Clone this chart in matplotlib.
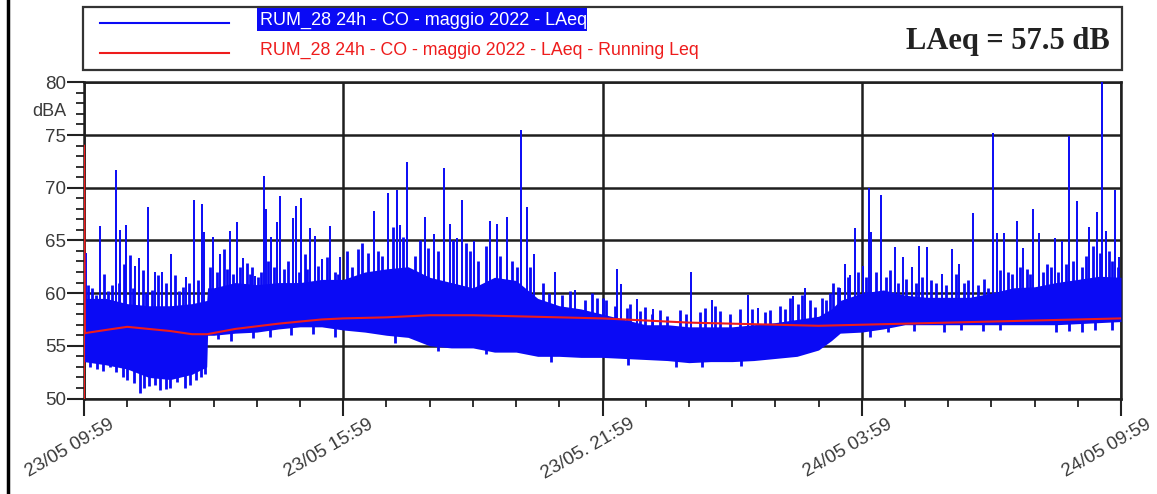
import numpy as np
import matplotlib
matplotlib.use("Agg")
import matplotlib.pyplot as plt
from matplotlib.patches import Rectangle
from matplotlib.lines import Line2D
from matplotlib.ticker import MultipleLocator
from matplotlib.transforms import offset_copy

################# data (hours after 23/05 09:59, dBA) #################
# dense part of the LAeq trace: lower / upper edge
band_h = [0.0, 0.5, 1.0, 1.5, 2.0, 2.5, 2.84, 2.86, 3.0, 3.5, 4.0, 4.5, 5.0, 5.5, 6.0,
          6.5, 7.0, 7.5, 8.0, 8.5, 9.0, 9.5, 10.0, 10.5, 11.0, 11.5, 12.0, 12.5, 13.0,
          13.5, 14.0, 14.5, 15.0, 15.5, 16.0, 16.5, 17.0, 17.3, 17.5, 18.0, 18.5, 19.0,
          19.5, 20.0, 20.5, 21.0, 21.5, 22.0, 22.5, 23.0, 23.5, 24.0]
band_lo = [53.5, 53.2, 52.8, 52.0, 51.8, 52.3, 53.0, 56.0, 56.0, 56.2, 56.3, 56.6, 56.8, 56.8, 56.5,
           56.3, 56.0, 55.8, 55.0, 54.8, 54.8, 54.4, 54.4, 54.0, 54.0, 53.9, 53.9, 53.8, 53.7,
           53.6, 53.4, 53.5, 53.5, 53.6, 53.8, 54.0, 54.6, 55.5, 56.2, 56.3, 56.6, 57.0,
           57.0, 57.0, 57.0, 57.0, 57.0, 57.0, 57.0, 57.1, 57.2, 57.3]
band_hi = [59.5, 59.5, 59.0, 58.8, 58.8, 59.0, 59.3, 60.5, 60.5, 61.0, 60.8, 61.0, 61.0, 61.3, 61.3,
           62.0, 62.3, 62.5, 61.5, 61.0, 60.5, 61.5, 61.2, 59.5, 58.8, 58.5, 58.0, 57.5, 57.0,
           57.0, 56.8, 56.8, 56.8, 57.0, 57.2, 57.5, 57.8, 58.5, 59.3, 60.0, 60.3, 59.8,
           59.6, 59.6, 59.6, 60.0, 60.5, 60.6, 61.0, 61.3, 61.6, 61.5]

# tall single peaks
spike_h = [0.05, 0.37, 0.74, 0.83, 0.97, 1.18, 1.27, 1.48, 1.64, 1.81, 2.01, 2.36, 2.55, 2.73,
           2.78, 2.99, 3.15, 3.38, 3.54, 3.68, 3.96, 4.17, 4.21, 4.33, 4.47, 4.54, 4.84, 4.91,
           5.02, 5.23, 5.35, 5.51, 5.69, 5.93, 6.71, 7.04, 7.25, 7.31, 7.48, 7.89, 8.10, 8.33,
           8.47, 8.63, 8.75, 9.03, 9.40, 9.56, 9.79, 10.12, 10.25, 10.42, 10.90, 11.37, 12.34,
           12.43, 12.80, 13.17, 14.05, 14.54, 15.37, 15.60, 16.41, 16.69, 17.50, 17.62, 17.73,
           17.85, 18.03, 18.17, 18.22, 18.45, 18.77, 18.96, 19.17, 19.33, 19.51, 19.86, 20.09,
           20.25, 20.58, 21.04, 21.13, 21.30, 21.60, 21.74, 21.97, 22.11, 22.48, 22.64, 22.80,
           22.99, 23.26, 23.45, 23.56, 23.66, 23.87, 23.96]
spike_db = [63.8, 66.4, 71.7, 66.0, 66.5, 62.6, 63.3, 68.2, 62.0, 62.0, 63.7, 61.5, 68.8, 68.5,
            65.8, 65.3, 63.7, 65.9, 66.7, 63.3, 61.6, 71.1, 68.0, 65.3, 66.7, 69.2, 67.1, 68.3,
            69.0, 66.2, 65.4, 63.2, 66.4, 63.4, 67.8, 69.5, 69.8, 66.5, 72.4, 67.2, 65.6, 71.9,
            66.6, 65.2, 68.8, 64.9, 66.8, 66.6, 67.2, 75.5, 68.2, 63.7, 62.0, 60.3, 62.3,
            60.9, 59.4, 58.5, 62.0, 59.3, 59.8, 58.6, 59.7, 60.5, 60.5, 62.8, 61.7,
            66.2, 62.6, 70.0, 65.8, 69.3, 64.4, 63.4, 62.5, 64.5, 64.4, 61.8, 64.2,
            62.8, 67.6, 75.2, 65.7, 65.7, 66.8, 64.3, 68.0, 65.7, 65.2, 64.9, 74.9,
            68.7, 66.3, 67.7, 80.0, 65.9, 69.8, 63.4]

# shorter peaks just above the dense part
mid_h = [0.09, 0.19, 0.28, 0.46, 0.56, 0.65, 0.81, 0.93, 1.06, 1.13, 1.37, 1.44, 1.57, 1.71,
         1.90, 2.11, 2.20, 2.29, 2.43, 2.64,
         2.92, 3.08, 3.24, 3.31, 3.45, 3.61, 3.77, 3.84, 3.89, 4.03, 4.10, 4.26, 4.40, 4.63,
         4.72, 4.98, 5.12, 5.16, 5.42, 5.63, 5.81, 5.88,
         6.09, 6.20, 6.34, 6.44, 6.57, 6.81, 6.90, 7.15, 7.38, 7.66, 7.78, 7.96, 8.19, 8.54,
         8.84, 8.94, 9.12, 9.31, 9.63, 9.91, 10.02, 10.32, 10.62, 10.76, 11.06, 11.25, 11.60,
         11.76, 11.88,
         12.01, 12.08, 12.29, 12.57, 12.64, 12.87, 12.99, 13.15, 13.33, 13.50, 13.80, 13.94,
         14.26, 14.38, 14.61, 14.72, 14.95, 15.19, 15.46, 15.76, 15.88, 16.11, 16.23, 16.34,
         16.53, 16.62, 16.81, 16.92, 17.08, 17.18, 17.27, 17.34, 17.45, 17.69, 17.92,
         18.10, 18.33, 18.56, 18.66, 18.84, 19.03, 19.26, 19.40, 19.61, 19.72, 19.95, 20.19,
         20.37, 20.46, 20.69, 20.83, 20.93, 21.20, 21.39, 21.48, 21.67, 21.83, 21.90, 22.20,
         22.29, 22.38, 22.55, 22.73, 22.89, 23.10, 23.19, 23.36, 23.52, 23.73, 23.80, 23.94]
mid_db = [60.8, 60.5, 59.8, 61.8, 60.2, 60.8, 61.0, 62.8, 63.6, 60.5, 62.2, 60.0, 60.3, 61.7,
          61.0, 61.7, 60.2, 60.6, 61.0, 61.2,
          62.5, 62.0, 64.2, 62.3, 61.8, 62.5, 62.9, 61.8, 62.5, 61.5, 62.0, 63.0, 62.5, 62.3,
          63.0, 62.0, 63.7, 62.3, 62.6, 63.4, 62.0, 61.8,
          64.0, 62.5, 64.2, 64.8, 63.8, 64.0, 63.5, 66.3, 65.3, 63.5, 65.0, 64.3, 64.0, 65.0,
          64.8, 64.0, 63.0, 64.5, 63.5, 63.0, 62.5, 62.5, 61.0, 60.0, 59.8, 60.2, 59.3,
          60.0, 59.5,
          59.5, 59.3, 58.8, 58.6, 59.0, 58.3, 58.7, 58.0, 58.4, 57.8, 58.4, 58.0,
          58.2, 58.6, 58.8, 58.3, 58.0, 58.5, 58.5, 58.2, 58.4, 58.8, 58.5, 59.5,
          59.0, 59.8, 59.3, 58.7, 59.5, 59.3, 60.0, 61.0, 60.6, 61.5, 62.0,
          61.5, 62.0, 61.5, 62.2, 61.0, 61.3, 61.0, 61.5, 61.2, 61.0, 60.8, 61.8,
          61.0, 61.2, 60.8, 61.3, 60.5, 62.2, 62.0, 61.8, 62.5, 62.3, 61.8, 62.0,
          62.8, 62.5, 62.0, 62.8, 63.0, 62.5, 63.5, 64.5, 63.8, 64.0, 63.0, 62.5]

# single dips below the dense part
dip_h = [0.15, 0.3, 0.45, 0.6, 0.75, 0.9, 1.0, 1.15, 1.3, 1.4, 1.5, 1.65, 1.76, 1.9, 2.0, 2.15,
         2.34, 2.45, 2.6, 2.7, 2.8, 3.1, 3.4, 3.9, 4.3, 4.8, 5.3, 5.8, 7.2, 8.2, 9.3, 10.8,
         12.6, 13.7, 14.3, 15.2, 18.2, 18.6, 19.2, 19.9, 20.3, 20.8, 21.2, 22.5, 22.8, 23.1,
         23.4, 23.8]
dip_db = [53.0, 52.8, 52.6, 53.0, 52.5, 52.0, 51.8, 51.5, 50.5, 51.0, 51.2, 51.3, 50.8, 50.9,
          51.0, 51.6, 51.0, 51.3, 51.8, 52.0, 52.3, 55.6, 55.5, 55.7, 55.8, 56.0, 56.1, 55.8,
          55.3, 54.5, 54.2, 53.5, 53.2, 53.0, 53.0, 53.1, 55.8, 56.3, 56.4, 56.3, 56.5, 56.4,
          56.5, 56.3, 56.4, 56.3, 56.5, 56.5]

# running Leq
run_h = [0.0, 0.0, 0.02, 0.5, 1.0, 1.5, 2.0, 2.5, 2.85, 3.5, 4.5, 5.5, 6.0, 7.0, 8.0, 9.0, 10.0,
         11.0, 12.0, 13.0, 14.0, 15.0, 16.0, 17.0, 18.0, 19.0, 20.0, 21.0, 22.0, 23.0, 24.0]
run_db = [45.0, 74.0, 56.2, 56.5, 56.8, 56.6, 56.4, 56.1, 56.1, 56.6, 57.1, 57.5, 57.6, 57.7, 57.9,
          57.9, 57.8, 57.7, 57.6, 57.4, 57.2, 57.1, 57.0, 56.9, 57.0, 57.1, 57.2, 57.3, 57.4,
          57.5, 57.6]

tick_h = [0, 6, 12, 18, 24]
tick_labels = ["23/05 09:59", "23/05 15:59", "23/05. 21:59", "24/05 03:59", "24/05 09:59"]
y_ticks = [50, 55, 60, 65, 70, 75, 80]
series_name = "RUM_28 24h - CO - maggio 2022 - LAeq"
running_name = "RUM_28 24h - CO - maggio 2022 - LAeq - Running Leq"
laeq_total = 57.5
################# data #################

BLUE = "#0a0af5"
RED = "#ee1c1c"
INK = "#3a3a3a"
W, H = 1157, 494
plt.rcParams['font.family'] = ['Liberation Sans', 'DejaVu Sans']

fig = plt.figure(figsize=(W / 100, H / 100), dpi=100)
ax = fig.add_axes([84 / W, (H - 398.5) / H, (1121 - 84) / W, (398.5 - 82.3) / H])

# blue trace
ax.fill_between(band_h, band_lo, band_hi, color=BLUE, lw=0, zorder=3)
ax.vlines(spike_h, np.interp(spike_h, band_h, band_hi) - 0.5, spike_db, color=BLUE, lw=1.4, zorder=3)
ax.vlines(mid_h, np.interp(mid_h, band_h, band_hi) - 0.5, mid_db, color=BLUE, lw=2.0, zorder=3)
ax.vlines(dip_h, dip_db, np.interp(dip_h, band_h, band_lo) + 0.5, color=BLUE, lw=2.0, zorder=3)
# running Leq
ax.plot(run_h, run_db, color=RED, lw=1.5, zorder=4)

ax.set_xlim(0, 24)
ax.set_ylim(50, 80)
ax.set_xticks(tick_h)
ax.set_xticklabels([])
# rotated date labels, centred a little left of each tick
lab_tr = offset_copy(ax.get_xaxis_transform(), fig=fig, x=-14, y=-50, units='dots')
for h, txt in zip(tick_h, tick_labels):
    ax.text(h, 0, txt, transform=lab_tr, rotation=30, ha='center', va='center',
            fontsize=13.5, color=INK, clip_on=False)
ax.set_yticks(y_ticks)
ax.set_yticklabels([str(v) for v in y_ticks], fontsize=13.5, color=INK)
ax.xaxis.set_minor_locator(MultipleLocator(1))
ax.yaxis.set_minor_locator(MultipleLocator(1))
ax.tick_params(which='major', direction='out', length=12, width=1.5, color='#222222', pad=1)
ax.tick_params(which='minor', direction='out', length=6, width=1.3, color='#222222')
ax.grid(True, which='major', color='#1e1e1e', lw=1.8, zorder=1)
ax.set_axisbelow(True)
for s in ax.spines.values():
    s.set_linewidth(1.8)
    s.set_color('#1e1e1e')
fig.text(32 / W, (H - 111) / H, "dBA", fontsize=13, color=INK, ha='left', va='center')

# legend box on top
fig.add_artist(Rectangle((83 / W, (H - 70) / H), 1039 / W, 63 / H, transform=fig.transFigure,
                         fill=False, ec='#333333', lw=1.6))
fig.add_artist(Line2D([100 / W, 229 / W], [(H - 23) / H] * 2, color=BLUE, lw=1.5))
fig.add_artist(Line2D([100 / W, 229 / W], [(H - 53) / H] * 2, color=RED, lw=1.5))
fig.add_artist(Rectangle((257 / W, (H - 31) / H), 330 / W, 23 / H, transform=fig.transFigure,
                         color=BLUE, lw=0))
fig.text(260 / W, (H - 20) / H, series_name, color='white', fontsize=13, va='center')
fig.text(260 / W, (H - 50) / H, running_name, color=RED, fontsize=12.8, va='center')
fig.text(1110 / W, (H - 41) / H, f"LAeq = {laeq_total} dB", family='Liberation Serif',
         fontweight='bold', fontsize=22, color='#222222', ha='right', va='center')

# left page border
fig.add_artist(Line2D([7.5 / W, 7.5 / W], [0, 1], color='black', lw=2.5))

fig.savefig("out.png", dpi=100)
